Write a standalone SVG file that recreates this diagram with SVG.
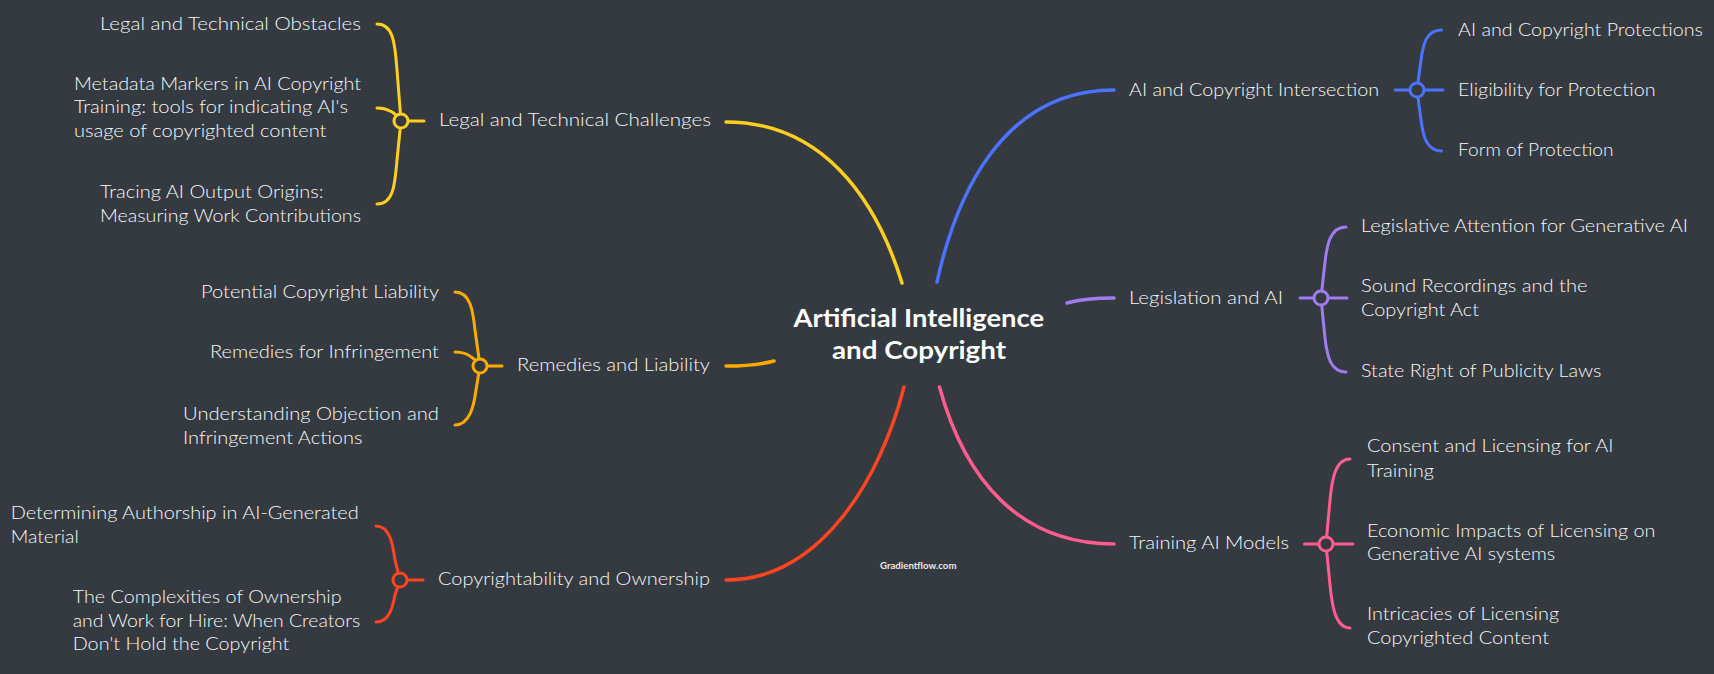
<svg xmlns="http://www.w3.org/2000/svg" width="1714" height="674" viewBox="0 0 1714 674">
<style>
.t{font-family:Lato,"Liberation Sans",sans-serif;font-size:18px;font-weight:300;fill:#f7f7f7}
.ctr{font-family:Lato,"Liberation Sans",sans-serif;font-size:24px;font-weight:bold;fill:#ffffff}
.wm{font-family:Lato,"Liberation Sans",sans-serif;font-size:10px;font-weight:bold;fill:#e8e8e8}
.m{fill:none;stroke-width:3.5;stroke-linecap:round}
.b{fill:none;stroke-width:3;stroke-linecap:round}
.k{fill:#343a40;stroke-width:3}
.y{stroke:#ffcf1f}.o{stroke:#ffaa00}.r{stroke:#ff4420}.bl{stroke:#4a74ff}.p{stroke:#a07cf0}.pk{stroke:#ff5c8f}
</style>
<rect width="1714" height="674" fill="#343a40"/>
<g id="connectors">
<path class="m y" d="M902 283 C875 195 820 122 726 122"/>
<path class="m o" d="M774 361 Q755 366 726 366"/>
<path class="m r" d="M904 387 C880 480 820 580 726 580"/>
<path class="m bl" d="M937 282 C955 200 1000 90 1114 90"/>
<path class="m p" d="M1067 303 Q1085 298 1114 298"/>
<path class="m pk" d="M939.5 387 C965 480 1020 544 1114 544"/>
<path class="b y" d="M377 24 C394 24 395 45 397 70 L401 121"/>
<path class="b y" d="M377 108 C387 108 395 112 401 121"/>
<path class="b y" d="M377 204 C394 204 395 183 397 160 L401 121"/>
<path class="b y" d="M401 121 L424 121"/>
<circle class="k y" cx="401" cy="121" r="7"/>
<path class="b o" d="M455 292 C470 292 473 310 475 330 L480 366"/>
<path class="b o" d="M455 352 C466 352 474 357 480 366"/>
<path class="b o" d="M455 425 C470 425 474 405 476 390 L480 366"/>
<path class="b o" d="M480 366 L502 366"/>
<circle class="k o" cx="480" cy="366" r="7"/>
<path class="b r" d="M376 526 C390 526 393 545 395 560 L400 580"/>
<path class="b r" d="M376 622 C390 622 393 605 395 595 L400 580"/>
<path class="b r" d="M400 580 L423 580"/>
<circle class="k r" cx="400" cy="580" r="7"/>
<path class="b bl" d="M1441.5 30 C1426 30 1423 45 1421 60 L1417 90"/>
<path class="b bl" d="M1441.5 151 C1426 151 1423 135 1421 120 L1417 90"/>
<path class="b bl" d="M1395 90 L1443 90"/>
<circle class="k bl" cx="1417" cy="90" r="7"/>
<path class="b p" d="M1346 227 C1330 227 1327 245 1325 262 L1321 298"/>
<path class="b p" d="M1346 372 C1330 372 1327 355 1325 338 L1321 298"/>
<path class="b p" d="M1300 298 L1347 298"/>
<circle class="k p" cx="1321" cy="298" r="7"/>
<path class="b pk" d="M1350 459 C1335 459 1332 480 1330 500 L1326 544"/>
<path class="b pk" d="M1350 628 C1335 628 1332 605 1330 585 L1326 544"/>
<path class="b pk" d="M1304.5 544 L1353 544"/>
<circle class="k pk" cx="1326" cy="544" r="7"/>
</g>
<g id="center"><text class="ctr" x="793.5" y="327" textLength="250.5" lengthAdjust="spacingAndGlyphs">Artificial Intelligence</text><text class="ctr" x="832" y="359" textLength="174" lengthAdjust="spacingAndGlyphs">and Copyright</text></g>
<g id="legal-challenges"><text class="t" x="439" y="126" textLength="272" lengthAdjust="spacingAndGlyphs">Legal and Technical Challenges</text></g>
<g id="legal-obstacles"><text class="t" x="100" y="30" textLength="261" lengthAdjust="spacingAndGlyphs">Legal and Technical Obstacles</text></g>
<g id="metadata"><text class="t" x="74" y="90" textLength="287" lengthAdjust="spacingAndGlyphs">Metadata Markers in AI Copyright</text><text class="t" x="74" y="113" textLength="274" lengthAdjust="spacingAndGlyphs">Training: tools for indicating AI's</text><text class="t" x="74" y="137" textLength="252.5" lengthAdjust="spacingAndGlyphs">usage of copyrighted content</text></g>
<g id="tracing"><text class="t" x="100" y="198" textLength="223.5" lengthAdjust="spacingAndGlyphs">Tracing AI Output Origins:</text><text class="t" x="100" y="222" textLength="261" lengthAdjust="spacingAndGlyphs">Measuring Work Contributions</text></g>
<g id="remedies-liability"><text class="t" x="517" y="371" textLength="193" lengthAdjust="spacingAndGlyphs">Remedies and Liability</text></g>
<g id="potential"><text class="t" x="201" y="298" textLength="238" lengthAdjust="spacingAndGlyphs">Potential Copyright Liability</text></g>
<g id="remedies-infringement"><text class="t" x="210" y="358" textLength="229" lengthAdjust="spacingAndGlyphs">Remedies for Infringement</text></g>
<g id="understanding"><text class="t" x="183" y="420" textLength="256" lengthAdjust="spacingAndGlyphs">Understanding Objection and</text><text class="t" x="183" y="444" textLength="179.5" lengthAdjust="spacingAndGlyphs">Infringement Actions</text></g>
<g id="copyrightability"><text class="t" x="438" y="585" textLength="272" lengthAdjust="spacingAndGlyphs">Copyrightability and Ownership</text></g>
<g id="determining"><text class="t" x="10.7" y="519" textLength="348" lengthAdjust="spacingAndGlyphs">Determining Authorship in AI-Generated</text><text class="t" x="10.7" y="542.7" textLength="68" lengthAdjust="spacingAndGlyphs">Material</text></g>
<g id="complexities"><text class="t" x="72.7" y="603" textLength="269" lengthAdjust="spacingAndGlyphs">The Complexities of Ownership</text><text class="t" x="72.7" y="626.7" textLength="287.5" lengthAdjust="spacingAndGlyphs">and Work for Hire: When Creators</text><text class="t" x="72.7" y="650" textLength="216.7" lengthAdjust="spacingAndGlyphs">Don't Hold the Copyright</text></g>
<g id="intersection"><text class="t" x="1129" y="96" textLength="250" lengthAdjust="spacingAndGlyphs">AI and Copyright Intersection</text></g>
<g id="protections"><text class="t" x="1458" y="36" textLength="245" lengthAdjust="spacingAndGlyphs">AI and Copyright Protections</text></g>
<g id="eligibility"><text class="t" x="1458" y="96" textLength="197.6" lengthAdjust="spacingAndGlyphs">Eligibility for Protection</text></g>
<g id="form"><text class="t" x="1458" y="155.7" textLength="155.6" lengthAdjust="spacingAndGlyphs">Form of Protection</text></g>
<g id="legislation"><text class="t" x="1129" y="304" textLength="154" lengthAdjust="spacingAndGlyphs">Legislation and AI</text></g>
<g id="legislative-attention"><text class="t" x="1361" y="232.3" textLength="327" lengthAdjust="spacingAndGlyphs">Legislative Attention for Generative AI</text></g>
<g id="sound"><text class="t" x="1361" y="291.7" textLength="226.5" lengthAdjust="spacingAndGlyphs">Sound Recordings and the</text><text class="t" x="1361" y="315.7" textLength="118" lengthAdjust="spacingAndGlyphs">Copyright Act</text></g>
<g id="state"><text class="t" x="1361" y="376.7" textLength="240.5" lengthAdjust="spacingAndGlyphs">State Right of Publicity Laws</text></g>
<g id="training"><text class="t" x="1129" y="549" textLength="160" lengthAdjust="spacingAndGlyphs">Training AI Models</text></g>
<g id="consent"><text class="t" x="1367" y="452.3" textLength="246.5" lengthAdjust="spacingAndGlyphs">Consent and Licensing for AI</text><text class="t" x="1367" y="476.7" textLength="67" lengthAdjust="spacingAndGlyphs">Training</text></g>
<g id="economic"><text class="t" x="1367" y="536.7" textLength="288.5" lengthAdjust="spacingAndGlyphs">Economic Impacts of Licensing on</text><text class="t" x="1367" y="560" textLength="188" lengthAdjust="spacingAndGlyphs">Generative AI systems</text></g>
<g id="intricacies"><text class="t" x="1367" y="620" textLength="192" lengthAdjust="spacingAndGlyphs">Intricacies of Licensing</text><text class="t" x="1367" y="644" textLength="182" lengthAdjust="spacingAndGlyphs">Copyrighted Content</text></g>
<g id="watermark"><text class="wm" x="880" y="569" textLength="76.5" lengthAdjust="spacingAndGlyphs">Gradientflow.com</text></g>
</svg>
